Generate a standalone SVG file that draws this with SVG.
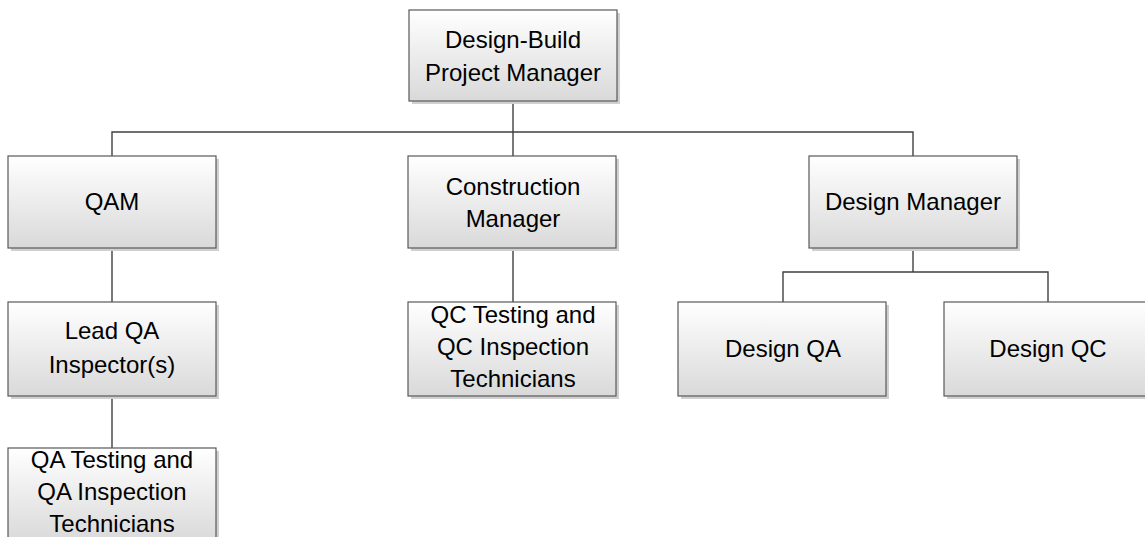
<svg xmlns="http://www.w3.org/2000/svg" width="1145" height="537" viewBox="0 0 1145 537">
<defs>
<linearGradient id="g" x1="0" y1="0" x2="0" y2="1">
<stop offset="0" stop-color="#ffffff"/>
<stop offset="1" stop-color="#d9d9d9"/>
</linearGradient>
<style>
.box{fill:url(#g);stroke:#595959;stroke-width:1.2}
.sh{fill:#d0d0d0}
.t{font-family:"Liberation Sans",Arial,sans-serif;font-size:24px;fill:#000;text-anchor:middle}
.c{fill:none;stroke:#404040;stroke-width:1.4}
</style>
</defs>
<rect width="1145" height="537" fill="#fff"/>
<g id="connectors">
<path class="c" d="M513 101V132M112 156V132H913V156M513 132V156"/>
<path class="c" d="M112 248V302M112 396V448"/>
<path class="c" d="M513 248V302"/>
<path class="c" d="M913 248V272M783 302V272H1048V302"/>
</g>
<g id="pm">
<rect class="sh" x="412" y="13" width="208" height="91"/>
<rect class="box" x="409" y="10" width="208" height="91"/>
<text class="t" x="513" y="48">Design-Build</text>
<text class="t" x="513" y="81">Project Manager</text>
</g>
<g id="qam">
<rect class="sh" x="11" y="159" width="208" height="92"/>
<rect class="box" x="8" y="156" width="208" height="92"/>
<text class="t" x="112" y="210">QAM</text>
</g>
<g id="cm">
<rect class="sh" x="411" y="159" width="208" height="92"/>
<rect class="box" x="408" y="156" width="208" height="92"/>
<text class="t" x="513" y="195">Construction</text>
<text class="t" x="513" y="227">Manager</text>
</g>
<g id="dm">
<rect class="sh" x="812" y="159" width="208" height="92"/>
<rect class="box" x="809" y="156" width="208" height="92"/>
<text class="t" x="913" y="210">Design Manager</text>
</g>
<g id="leadqa">
<rect class="sh" x="11" y="305" width="208" height="94"/>
<rect class="box" x="8" y="302" width="208" height="94"/>
<text class="t" x="112" y="339">Lead QA</text>
<text class="t" x="112" y="373">Inspector(s)</text>
</g>
<g id="qctest">
<rect class="sh" x="411" y="305" width="208" height="94"/>
<rect class="box" x="408" y="302" width="208" height="94"/>
<text class="t" x="513" y="323">QC Testing and</text>
<text class="t" x="513" y="355">QC Inspection</text>
<text class="t" x="513" y="387">Technicians</text>
</g>
<g id="designqa">
<rect class="sh" x="681" y="305" width="208" height="94"/>
<rect class="box" x="678" y="302" width="208" height="94"/>
<text class="t" x="783" y="357">Design QA</text>
</g>
<g id="designqc">
<rect class="sh" x="947" y="305" width="208" height="94"/>
<rect class="box" x="944" y="302" width="208" height="94"/>
<text class="t" x="1048" y="357">Design QC</text>
</g>
<g id="qatest">
<rect class="sh" x="11" y="451" width="208" height="94"/>
<rect class="box" x="8" y="448" width="208" height="94"/>
<text class="t" x="112" y="468">QA Testing and</text>
<text class="t" x="112" y="500">QA Inspection</text>
<text class="t" x="112" y="532">Technicians</text>
</g>
</svg>
